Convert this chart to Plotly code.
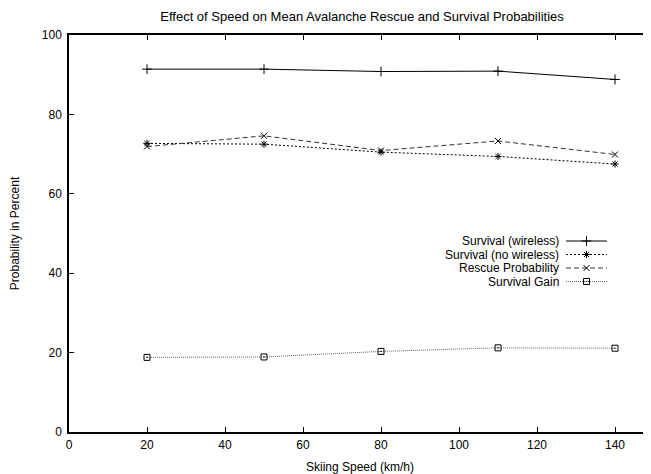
import plotly.graph_objects as go

# ---- data ----
speed = [20, 50, 80, 110, 140]
surv_wireless = [91.4, 91.4, 90.8, 90.9, 88.8]
surv_no_wireless = [72.7, 72.5, 70.5, 69.4, 67.5]
rescue_prob = [71.9, 74.6, 70.9, 73.3, 69.9]
surv_gain = [18.8, 18.9, 20.3, 21.2, 21.1]
series_names = ["Survival (wireless)", "Survival (no wireless)",
                "Rescue Probability", "Survival Gain"]
x_ticks = [0, 20, 40, 60, 80, 100, 120, 140]
y_ticks = [0, 20, 40, 60, 80, 100]

OFF = 8  # page body margin
W, H = 651 - OFF, 474 - OFF
FONT = "Liberation Sans, Arial, Helvetica, sans-serif"

styles = [
    dict(dash="solid", color="#000", symbol="cross-thin-open", size=7),
    dict(dash="2px,2px", color="#000", symbol="asterisk-open", size=6),
    dict(dash="5px,3px", color="#333", symbol="x-thin-open", size=6),
    dict(dash="1px,1px", color="#666", symbol="square-open-dot", size=6),
]
series = [surv_wireless, surv_no_wireless, rescue_prob, surv_gain]

fig = go.Figure()
for name, ys, st in zip(series_names, series, styles):
    fig.add_trace(go.Scatter(
        x=speed, y=ys, name=name, mode="lines+markers",
        line=dict(color=st["color"], width=1, dash=st["dash"]),
        marker=dict(symbol=st["symbol"], size=st["size"], color="#000",
                    line=dict(color="#000", width=1)),
        showlegend=False, xaxis="x", yaxis="y",
    ))

# ---- custom legend (text left, sample right, as in gnuplot) ----
leg_rows = [241 - OFF, 254.5 - OFF, 268 - OFF, 281.5 - OFF]
leg_text_right = 561 - OFF
leg_x0, leg_x1 = 566 - OFF, 607 - OFF
for name, row, st in zip(series_names, leg_rows, styles):
    fig.add_trace(go.Scatter(
        x=[leg_x0, leg_x1], y=[row, row], mode="lines",
        line=dict(color=st["color"], width=1, dash=st["dash"]),
        showlegend=False, hoverinfo="skip", xaxis="x2", yaxis="y2"))
    fig.add_trace(go.Scatter(
        x=[(leg_x0 + leg_x1) / 2], y=[row], mode="markers",
        marker=dict(symbol=st["symbol"], size=st["size"], color="#000",
                    line=dict(color="#000", width=1)),
        showlegend=False, hoverinfo="skip", xaxis="x2", yaxis="y2"))
    fig.add_annotation(text=name, x=leg_text_right / W, y=1 - row / H,
                       xref="paper", yref="paper", xanchor="right",
                       yanchor="middle", showarrow=False,
                       font=dict(family=FONT, size=12, color="#000"))

left_px, right_px, top_px, bottom_px = 69 - OFF, 651 - OFF, 35 - OFF, 432 - OFF
xmax = 150 * (right_px - left_px) / 585.0

axis_common = dict(showline=True, linecolor="#000", linewidth=1.5,
                   mirror="allticks", ticks="inside", ticklen=5,
                   tickcolor="#000", tickwidth=1, showgrid=False,
                   zeroline=False,
                   tickfont=dict(family=FONT, size=12, color="#000"))

fig.update_layout(
    width=W, height=H,
    margin=dict(l=0, r=0, t=0, b=0, pad=0),
    paper_bgcolor="white", plot_bgcolor="rgba(0,0,0,0)",
    title=dict(text="Effect of Speed on Mean Avalanche Rescue and Survival Probabilities",
               x=(362 - OFF) / W, xanchor="center", y=1 - (16 - OFF) / H,
               yanchor="middle",
               font=dict(family=FONT, size=13, color="#000")),
    xaxis=dict(domain=[left_px / W, 1.0], range=[0, xmax],
               tickvals=x_ticks, anchor="y", automargin=False,
               ticklabelstandoff=1,
               title=dict(text="Skiing Speed (km/h)", standoff=12,
                          font=dict(family=FONT, size=12, color="#000")),
               **axis_common),
    yaxis=dict(domain=[1 - bottom_px / H, 1 - top_px / H], range=[0, 100],
               tickvals=y_ticks, anchor="x", automargin=False,
               ticklabelstandoff=3,
               title=dict(text="Probability in Percent", standoff=22,
                          font=dict(family=FONT, size=12, color="#000")),
               **axis_common),
    xaxis2=dict(domain=[0, 1], range=[0, W], visible=False, anchor="y2",
                fixedrange=True),
    yaxis2=dict(domain=[0, 1], range=[H, 0], visible=False, anchor="x2",
                fixedrange=True),
)

fig.write_html("out.html")
